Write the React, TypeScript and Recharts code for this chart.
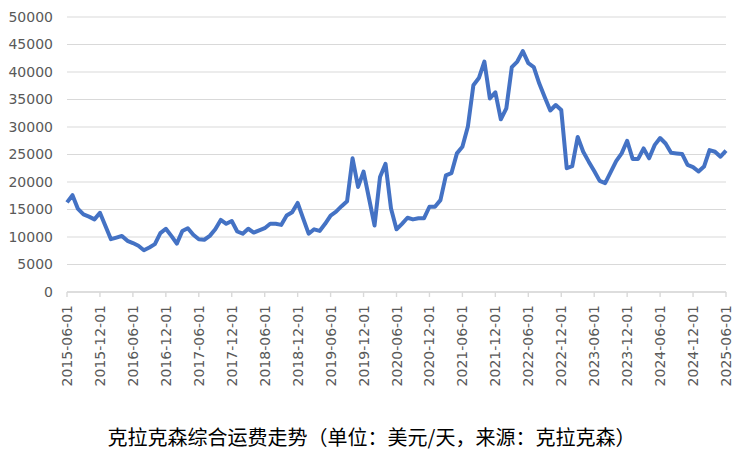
import React from 'react';
import { LineChart, Line, XAxis, YAxis, CartesianGrid } from 'recharts';

// monthly, 2015-06 .. 2025-06
const startYear = 2015;
const startMonth = 6;
const monthCount = 121;

const rates = [
  16300, 17600, 15100, 14100, 13700, 13200, 14400, 12000, 9600, 9900,
  10200, 9300, 8900, 8400, 7600, 8100, 8700, 10700, 11500, 10200,
  8800, 11100, 11600, 10400, 9600, 9500, 10200, 11400, 13100, 12400,
  12900, 11000, 10600, 11500, 10800, 11200, 11600, 12400, 12400, 12200,
  13900, 14500, 16200, 13400, 10600, 11400, 11100, 12400, 13900, 14600,
  15600, 16500, 24300, 19100, 21900, 17000, 12100, 20900, 23300, 15200,
  11400, 12400, 13500, 13200, 13400, 13400, 15500, 15500, 16700, 21200,
  21600, 25200, 26400, 30100, 37600, 38900, 41900, 35200, 36300, 31400,
  33400, 40900, 41900, 43800, 41600, 40900, 37900, 35400, 33000, 34000,
  33100, 22500, 22900, 28200, 25500, 23700, 22000, 20200, 19800, 21800,
  23800, 25200, 27500, 24200, 24200, 26100, 24300, 26700, 28000, 27000,
  25300, 25200, 25100, 23100, 22700, 21900, 22800, 25800, 25500, 24600,
  25700,
];

const yTicks = [0, 5000, 10000, 15000, 20000, 25000, 30000, 35000, 40000, 45000, 50000];

const title = '克拉克森综合运费走势（单位：美元/天，来源：克拉克森）';

const dates: string[] = [];
for (let i = 0; i < monthCount; i++) {
  const m = startMonth - 1 + i;
  const yy = startYear + Math.floor(m / 12);
  const mm = (m % 12) + 1;
  dates.push(`${yy}-${mm < 10 ? '0' + mm : mm}-01`);
}

const data = dates.map((d, i) => ({ date: d, rate: rates[i] }));

const axisFont = 'DejaVu Sans';

const DateTick = (props: any) => {
  const { x, y, payload } = props;
  return (
    <text
      x={x}
      y={y}
      transform={`rotate(-90, ${x}, ${y})`}
      textAnchor="end"
      dy="0.36em"
      fill="#595959"
      fontSize={14}
      fontFamily={axisFont}
    >
      {payload.value}
    </text>
  );
};

const App = () => {
  return (
    <div style={{ position: 'absolute', left: 0, top: 0, width: 743, height: 454, background: '#fff' }}>
      <LineChart
        width={743}
        height={454}
        data={data}
        margin={{ top: 17, right: 17, bottom: 62, left: 0 }}
      >
        <CartesianGrid vertical={false} stroke="#d9d9d9" strokeWidth={1.2} />
        <XAxis
          dataKey="date"
          interval={5}
          height={100}
          tick={<DateTick />}
          tickSize={5}
          tickMargin={8}
          axisLine={{ stroke: '#d9d9d9', strokeWidth: 1.4 }}
          tickLine={{ stroke: '#d9d9d9', strokeWidth: 1.4 }}
        />
        <YAxis
          domain={[0, 50000]}
          ticks={yTicks}
          width={67}
          axisLine={false}
          tickLine={false}
          tickSize={6}
          tickMargin={8}
          tick={{ fill: '#595959', fontSize: 14, fontFamily: axisFont }}
        />
        <Line
          type="linear"
          dataKey="rate"
          stroke="#4472C4"
          strokeWidth={4}
          dot={false}
          strokeLinejoin="round"
          isAnimationActive={false}
        />
      </LineChart>
      <div
        style={{
          position: 'absolute',
          left: 0,
          top: 424,
          width: 743,
          textAlign: 'center',
          fontSize: 20,
          lineHeight: '26px',
          color: '#000',
          fontFamily: '"Noto Sans CJK SC", sans-serif',
        }}
      >
        {title}
      </div>
    </div>
  );
};

export default App;
